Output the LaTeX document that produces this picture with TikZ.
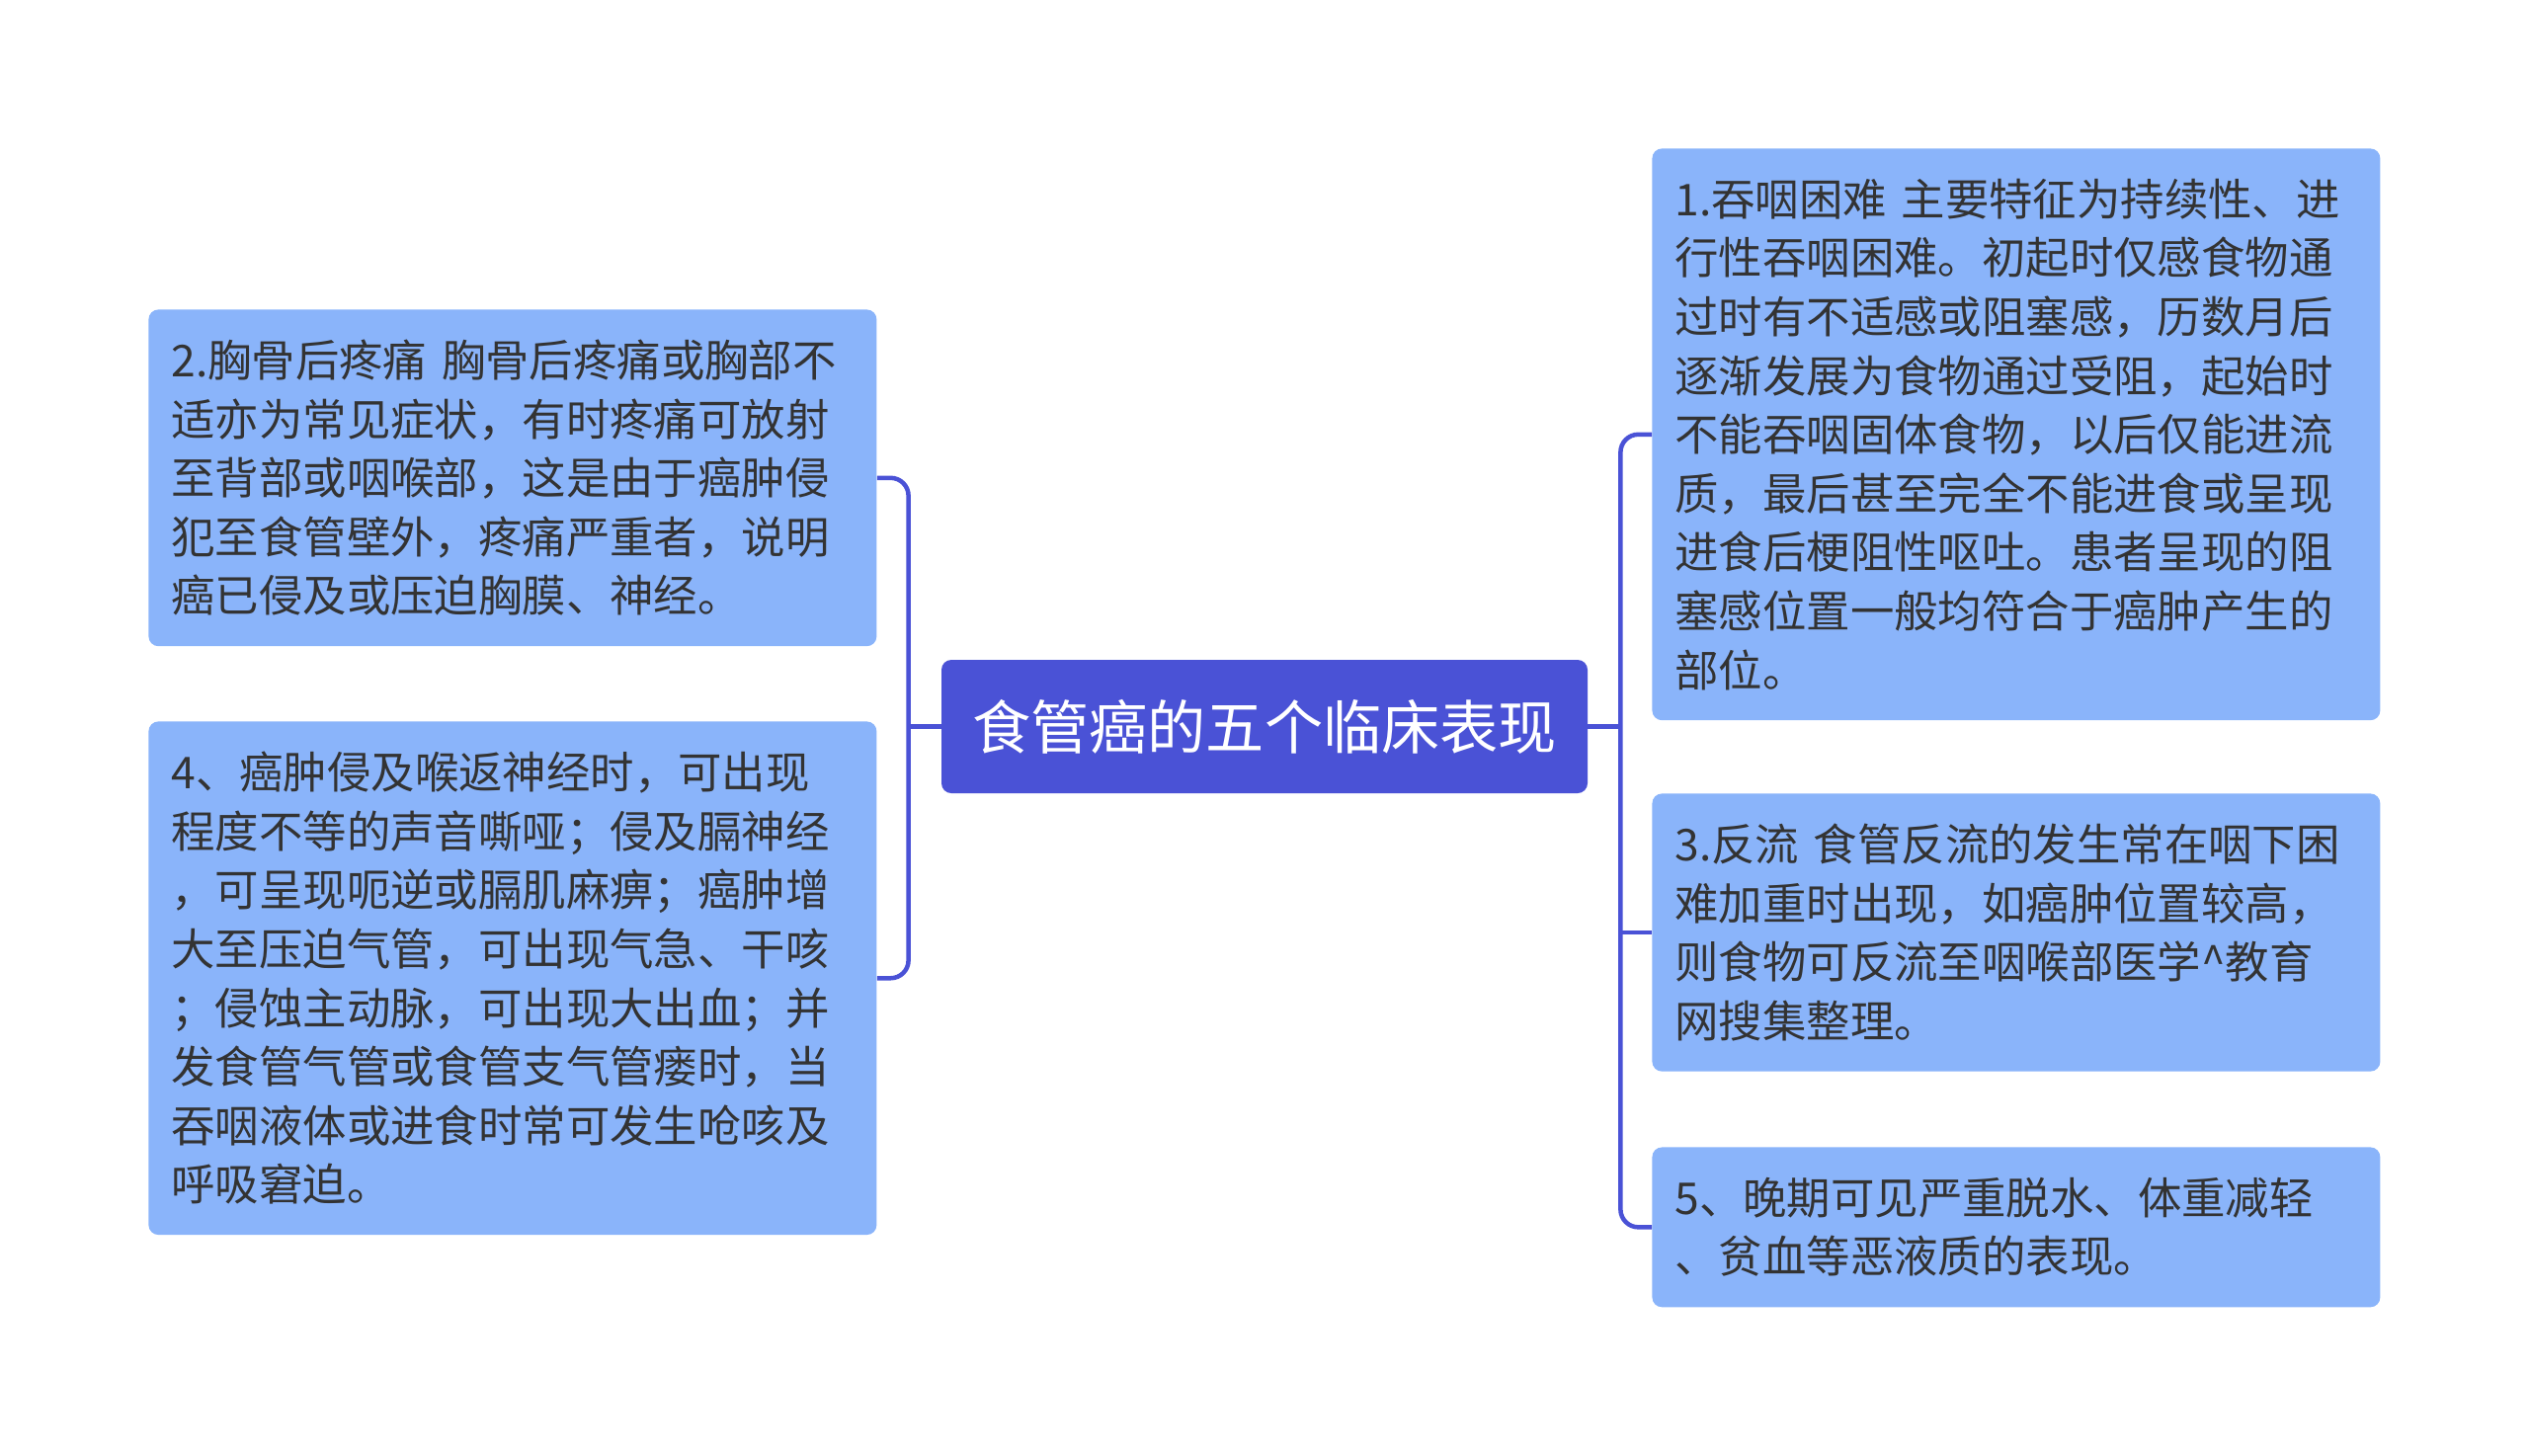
\documentclass[tikz,border=0pt]{standalone}
\usepackage{fontspec}
\usetikzlibrary{calc}
\newfontfamily\cjk{Noto Sans CJK SC}
\definecolor{rootblue}{RGB}{74,82,214}
\definecolor{itemblue}{RGB}{138,180,250}
\definecolor{itemtext}{RGB}{51,51,51}
\def\ux{0.5pt}
\tikzset{
     topic/.style={fill=rootblue, rounded corners=5pt, text=white,
          minimum width=654*\ux, minimum height=135*\ux, inner sep=0pt,
          font=\cjk\fontsize{29.6pt}{34pt}\selectfont},
     item/.style={fill=itemblue, rounded corners=5pt, text=itemtext,
          align=left, text width=691*\ux, inner xsep=23*\ux, inner ysep=15.3pt,
          anchor=north west, font=\cjk\fontsize{22.2pt}{29.8pt}\selectfont},
     link/.style={draw=rootblue, line width=4.5*\ux, rounded corners=9pt},
}

\begin{document}
\begin{tikzpicture}[x=\ux, y=-\ux]
  \useasboundingbox (0,0) rectangle (2560,1473);

  \node[topic] (root) at (1280,735.5) {食管癌的五个临床表现};

  % left side
  \node[item] (n2) at (150,313) {2.胸骨后疼痛 胸骨后疼痛或胸部不\\适亦为常见症状，有时疼痛可放射\\至背部或咽喉部，这是由于癌肿侵\\犯至食管壁外，疼痛严重者，说明\\癌已侵及或压迫胸膜、神经。};
  \node[item] (n4) at (150,730) {4、癌肿侵及喉返神经时，可出现\\程度不等的声音嘶哑；侵及膈神经\\，可呈现呃逆或膈肌麻痹；癌肿增\\大至压迫气管，可出现气急、干咳\\；侵蚀主动脉，可出现大出血；并\\发食管气管或食管支气管瘘时，当\\吞咽液体或进食时常可发生呛咳及\\呼吸窘迫。};

  % right side
  \node[item] (n1) at (1672,150) {1.吞咽困难 主要特征为持续性、进\\行性吞咽困难。初起时仅感食物通\\过时有不适感或阻塞感，历数月后\\逐渐发展为食物通过受阻，起始时\\不能吞咽固体食物，以后仅能进流\\质，最后甚至完全不能进食或呈现\\进食后梗阻性呕吐。患者呈现的阻\\塞感位置一般均符合于癌肿产生的\\部位。};
  \node[item] (n3) at (1672,803) {3.反流 食管反流的发生常在咽下困\\难加重时出现，如癌肿位置较高，\\则食物可反流至咽喉部医学\^{}教育\\网搜集整理。};
  \node[item] (n5) at (1672,1161) {5、晚期可见严重脱水、体重减轻\\、贫血等恶液质的表现。};

  \coordinate (lj) at ($(root.west)+(-33,0)$);
  \coordinate (rj) at ($(root.east)+(33,0)$);

  \draw[link] (root.west) -- (lj);
  \draw[link] (n2.east) -| (lj |- n4.east) -- (n4.east);
  \draw[link] (root.east) -- (rj);
  \draw[link] (n1.west) -| (rj |- n5.west) -- (n5.west);
  \draw[link] (rj |- n3.west) -- (n3.west);
\end{tikzpicture}
\end{document}
